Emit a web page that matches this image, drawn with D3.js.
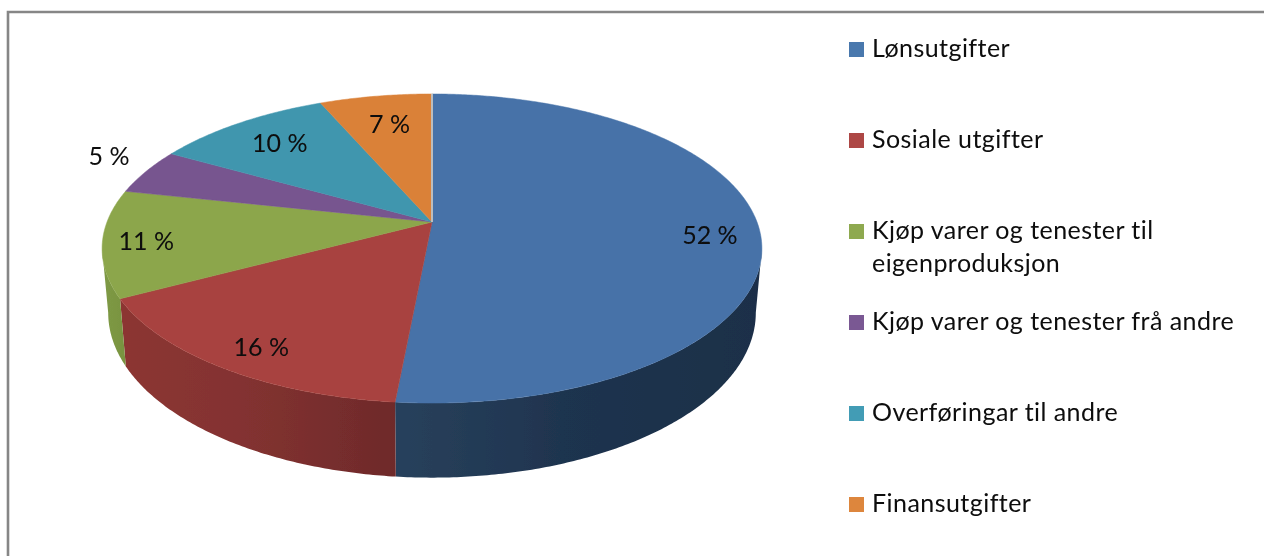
<!DOCTYPE html>
<html>
<head>
<meta charset="utf-8">
<script src="https://cdnjs.cloudflare.com/ajax/libs/d3/7.8.5/d3.min.js"></script>
<style>
html, body { margin: 0; padding: 0; background: #fff; overflow: hidden; }
text { font-family: Lato, "Open Sans", sans-serif; fill: #0a0a0a; }
</style>
</head>
<body>
<div id="example"></div>
<script>
// values (the printed labels are rounded)
const categories = ["Lønsutgifter", "Sosiale utgifter", "Kjøp varer og tenester til eigenproduksjon",
    "Kjøp varer og tenester frå andre", "Overføringar til andre", "Finansutgifter"];
const values = [51.5, 15.7, 11.2, 4.8, 10.3, 6.5];
const valueLabels = ["52 %", "16 %", "11 %", "5 %", "10 %", "7 %"];
const legendLines = [["Lønsutgifter"], ["Sosiale utgifter"], ["Kjøp varer og tenester til", "eigenproduksjon"],
    ["Kjøp varer og tenester frå andre"], ["Overføringar til andre"], ["Finansutgifter"]];
const topColors = ["#4672a8", "#a8433f", "#8ca64c", "#77548f", "#4096ae", "#da8138"];
const legendColors = ["#4a78ad", "#ad4744", "#8ea94f", "#7a5893", "#439cb5", "#dd863e"];
const sideLeft = ["#28415c", "#8c3633", "#7f9a45", "#5c4170", "#2f7285", "#a8622a"];
const sideMid = ["#1f344f", "#833230", "#7c9743", "#5c4170", "#2f7285", "#a8622a"];
const sideRight = ["#1c2f48", "#6e2a2b", "#789340", "#5c4170", "#2f7285", "#a8622a"];

const width = 1264, height = 556;

let chart = d3.select("div#example")
    .append("svg")
    .attr("width", width)
    .attr("height", height)
    .style("display", "block")

let defs = chart.append("defs")
defs.append("filter").attr("id", "soft")
    .attr("x", "-5%").attr("y", "-5%").attr("width", "110%").attr("height", "110%")
    .append("feGaussianBlur").attr("stdDeviation", 0.7)
defs.append("filter").attr("id", "softText")
    .attr("x", "-5%").attr("y", "-20%").attr("width", "110%").attr("height", "140%")
    .append("feGaussianBlur").attr("stdDeviation", 0.35)

// frame, only top and left are in the picture
chart.append("path")
    .attr("d", "M8,556V12H1264")
    .attr("fill", "none")
    .attr("stroke", "#868686")
    .attr("stroke-width", 2.6)

// perspective of the 3d disc: a unit circle (angle clockwise from the top) to the screen
const tilt = 0.1716;
const topPlane = {cx: 432, cy: 222, rx: 325, ry: 150};
const bottomPlane = {cx: 432, cy: 284.5, rx: 319, ry: 160};

function project(plane, angle, r = 1) {
    let u = Math.sin(angle) * r;
    let v = Math.cos(angle) * r;
    let w = 1 + tilt * v;
    return [plane.cx + plane.rx * u / w, plane.cy - plane.ry * v / w];
}

function rim(plane, a0, a1) {
    let n = Math.max(2, Math.ceil(Math.abs(a1 - a0) / 0.01));
    return d3.range(n + 1).map(i => project(plane, a0 + (a1 - a0) * i / n));
}

const line = d3.line();
const slices = d3.pie().sort(null)(values);
const color = d3.scaleOrdinal().domain(categories).range(topColors);
const legendColor = d3.scaleOrdinal().domain(categories).range(legendColors);

const disc = chart.append("g").attr("filter", "url(#soft)");

// side wall, only the part of the rim that faces the viewer
const sideFrom = Math.PI - Math.acos(tilt);
const sideTo = Math.PI + Math.acos(tilt);

slices.forEach((d, i) => {
    let a0 = Math.max(d.startAngle, sideFrom);
    let a1 = Math.min(d.endAngle, sideTo);
    if (a0 >= a1) return;
    let pts = rim(topPlane, a0, a1).concat(rim(bottomPlane, a1, a0));
    let xs = d3.extent(pts, p => p[0]);
    let grad = defs.append("linearGradient")
        .attr("id", "side" + i)
        .attr("gradientUnits", "userSpaceOnUse")
        .attr("x1", xs[0]).attr("x2", xs[1]).attr("y1", 0).attr("y2", 0);
    grad.append("stop").attr("offset", 0).attr("stop-color", sideLeft[i]);
    grad.append("stop").attr("offset", 0.45).attr("stop-color", sideMid[i]);
    grad.append("stop").attr("offset", 1).attr("stop-color", sideRight[i]);
    disc.append("path")
        .attr("d", line(pts) + "Z")
        .attr("fill", "url(#side" + i + ")");
});

// top face
disc.selectAll("path.slice")
    .data(slices)
    .enter()
    .append("path")
    .classed("slice", true)
    .attr("d", d => line([[topPlane.cx, topPlane.cy]].concat(rim(topPlane, d.startAngle, d.endAngle))) + "Z")
    .attr("fill", (d, i) => color(categories[i]))
    .attr("stroke", (d, i) => color(categories[i]))
    .attr("stroke-width", 0.5)

// the pale seam at twelve o'clock
disc.append("path")
    .attr("d", line([[topPlane.cx, topPlane.cy], project(topPlane, 0)]))
    .attr("stroke", "#bdbdbd")
    .attr("stroke-width", 2)
    .attr("fill", "none")

// label placement: radius on the disc plus a nudge
const labelPlace = [[0.85, 0, 16], [0.85, 3.5, 13], [0.85, -6.5, 10], [1.1, -10, -2], [0.75, -3.5, 6], [0.8, 4, 15]];

chart.append("g")
    .attr("filter", "url(#softText)")
    .selectAll("text.label")
    .data(slices)
    .enter()
    .append("text")
    .classed("label", true)
    .attr("text-anchor", "middle")
    .attr("font-size", 25)
    .attr("x", (d, i) => project(topPlane, (d.startAngle + d.endAngle) / 2, labelPlace[i][0])[0] + labelPlace[i][1])
    .attr("y", (d, i) => project(topPlane, (d.startAngle + d.endAngle) / 2, labelPlace[i][0])[1] + labelPlace[i][2])
    .text((d, i) => valueLabels[i])

// legend
const legendY = d3.scalePoint().domain(categories).range([57, 512]);

let legend = chart.append("g").attr("filter", "url(#softText)");

legend.selectAll("rect")
    .data(categories)
    .enter()
    .append("rect")
    .attr("x", 849)
    .attr("y", d => legendY(d) - 15)
    .attr("width", 15)
    .attr("height", 15)
    .attr("fill", d => legendColor(d))

legend.selectAll("text")
    .data(categories)
    .enter()
    .append("text")
    .attr("x", 872)
    .attr("y", d => legendY(d))
    .attr("font-size", 25)
    .attr("letter-spacing", 0.45)
    .selectAll("tspan")
    .data((d, i) => legendLines[i])
    .enter()
    .append("tspan")
    .attr("x", 872)
    .attr("dy", (d, i) => i ? 33 : 0)
    .text(d => d)
</script>
</body>
</html>
